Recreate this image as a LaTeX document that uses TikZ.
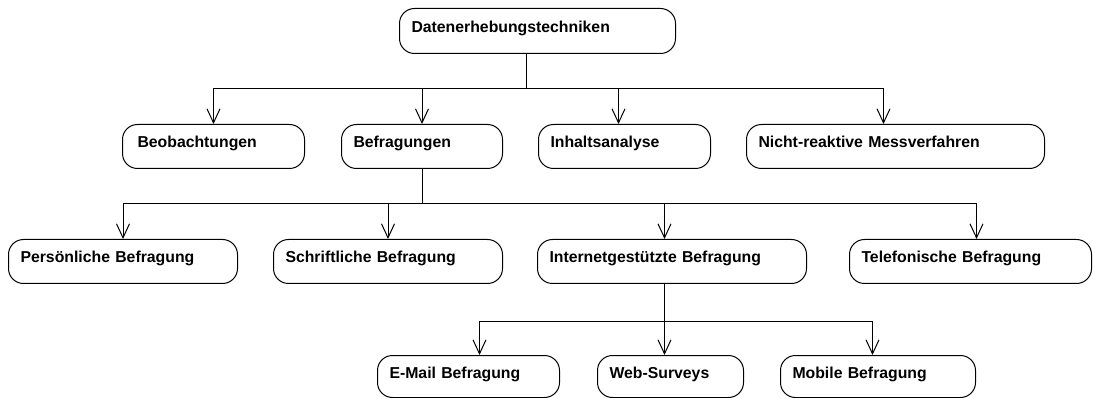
\documentclass[tikz,border=0pt]{standalone}
\usepackage{fontspec}
\setmainfont{Liberation Sans}
\usetikzlibrary{arrows.meta}
\begin{document}
\begin{tikzpicture}[x=1pt,y=-1pt,
  box/.style={draw, line width=1pt, rounded corners=15pt, anchor=north west,
    align=left, inner xsep=12pt, inner ysep=0pt, text height=23pt, text depth=21pt,
    font=\bfseries\fontsize{15.8}{18}\selectfont},
  link/.style={draw, line width=1pt},
  arr/.style={link, -{Straight Barb[length=14pt,width=13pt]}}]
\useasboundingbox (0,0) rectangle (1093,398);

% root
\node[box, text width=252pt, text height=24pt] (root) at (399,8) {Datenerhebungstechniken};

% first level
\node[box, text width=158pt] (beob) at (122,124) {\hspace*{3pt}Beobachtungen};
\node[box, text width=137pt] (befr) at (341,124) {Befragungen};
\node[box, text width=148pt] (inh)  at (538,124) {Inhaltsanalyse};
\node[box, text width=274pt] (nrm)  at (746,124) {Nicht-reaktive Messverfahren};

% second level
\node[box, text width=205pt] (pers) at (8,239)   {Persönliche Befragung};
\node[box, text width=205pt] (schr) at (273,239) {Schriftliche Befragung};
\node[box, text width=245pt] (inet) at (537,239) {Internetgestützte Befragung};
\node[box, text width=218pt] (tel)  at (849,239) {Telefonische Befragung};

% third level
\node[box, text width=158pt, text depth=19pt] (mail) at (377,355) {E-Mail Befragung};
\node[box, text width=122pt, text depth=19pt] (web)  at (597,355) {Web-Surveys};
\node[box, text width=171pt, text depth=19pt] (mob)  at (780,355) {Mobile Befragung};

% root -> first level
\draw[arr] ([xshift=-11pt]root.south) -- ++(0,35) -| (beob.north);
\draw[arr] ([xshift=-11pt]root.south) -- ++(0,35) -| (befr.north);
\draw[arr] ([xshift=-11pt]root.south) -- ++(0,35) -| ([xshift=-6pt]inh.north);
\draw[arr] ([xshift=-11pt]root.south) -- ++(0,35) -| ([xshift=-12pt]nrm.north);

% Befragungen -> second level
\draw[arr] (befr.south) -- ++(0,35) -| (pers.north);
\draw[arr] (befr.south) -- ++(0,35) -| (schr.north);
\draw[arr] (befr.south) -- ++(0,35) -| ([xshift=-7.5pt]inet.north);
\draw[arr] (befr.south) -- ++(0,35) -| ([xshift=6pt]tel.north);

% Internetgestützte Befragung -> third level
\draw[arr] ([xshift=-7.5pt]inet.south) -- ++(0,37) -| ([xshift=11pt]mail.north);
\draw[arr] ([xshift=-7.5pt]inet.south) -- ++(0,37) -| ([xshift=-6pt]web.north);
\draw[arr] ([xshift=-7.5pt]inet.south) -- ++(0,37) -| ([xshift=-5.5pt]mob.north);
\end{tikzpicture}
\end{document}
